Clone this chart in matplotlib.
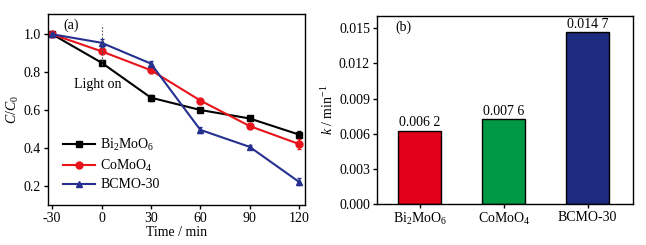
import matplotlib
matplotlib.use("Agg")
import matplotlib.pyplot as plt
import numpy as np

plt.rcParams['font.family'] = ['Liberation Serif', 'DejaVu Serif']
plt.rcParams['mathtext.fontset'] = 'custom'
plt.rcParams['mathtext.rm'] = 'Liberation Serif'
plt.rcParams['mathtext.it'] = 'Liberation Serif:italic'
plt.rcParams['axes.unicode_minus'] = False

time = [-30, 0, 30, 60, 90, 120]
bi2moo6 = [1.0, 0.85, 0.665, 0.60, 0.555, 0.47]
comoo4 = [1.0, 0.91, 0.81, 0.65, 0.515, 0.42]
bcmo30 = [1.0, 0.955, 0.845, 0.495, 0.405, 0.22]
err_bi = [0.01, 0.012, 0.015, 0.008, 0.01, 0.02]
err_co = [0.008, 0.01, 0.012, 0.01, 0.01, 0.025]
err_bc = [0.008, 0.02, 0.012, 0.015, 0.01, 0.018]

categories = ['Bi$_2$MoO$_6$', 'CoMoO$_4$', 'BCMO-30']
k_values = [0.00627, 0.00727, 0.01466]
k_labels = ['0.006 2', '0.007 6', '0.014 7']
bar_colors = ['#e3001b', '#009a44', '#1c2a80']

fig = plt.figure(figsize=(6.46, 2.45), dpi=100)
W, H = 646, 245
ax1 = fig.add_axes([48 / W, 1 - 205 / H, 257 / W, 191 / H])
ax2 = fig.add_axes([377 / W, 1 - 204 / H, 256 / W, 188 / H])

fs = 10
series = [(bi2moo6, err_bi, 'black', 's', 'Bi$_2$MoO$_6$'),
          (comoo4, err_co, '#e8141c', 'o', 'CoMoO$_4$'),
          (bcmo30, err_bc, '#25308f', '^', 'BCMO-30')]
for ys, es, c, m, lab in series:
    ax1.errorbar(time, ys, yerr=es, color=c, fmt='none', capsize=1.5, elinewidth=0.8)
    ax1.plot(time, ys, color=c, marker=m, lw=1.5, ms=5, label=lab)
ax1.plot([0, 0], [0.84, 1.05], color='#555555', lw=0.8, ls=(0, (1.5, 1.5)))
ax1.text(-2.5, 0.735, 'Light on', ha='center', va='center', fontsize=fs)
ax1.text(0.06, 0.94, '(a)', transform=ax1.transAxes, fontsize=fs, va='center')
ax1.set_xlim(-32.5, 123.6)
ax1.set_ylim(0.098, 1.107)
ax1.set_xticks(time)
ax1.set_yticks([0.2, 0.4, 0.6, 0.8, 1.0])
ax1.set_xlabel('Time / min', fontsize=fs, labelpad=1)
ax1.set_ylabel('$C$/$C$$_0$', fontsize=fs, labelpad=2)
ax1.legend(loc='lower left', bbox_to_anchor=(0.02, 0.02), frameon=False, fontsize=fs,
           handlelength=2.3, handletextpad=0.4, labelspacing=0.35, borderpad=0.2)

x = np.arange(len(categories))
ax2.bar(x, k_values, width=0.51, color=bar_colors, edgecolor='black', linewidth=1.0)
for xi, v, lab in zip(x, k_values, k_labels):
    ax2.text(xi, v + 0.0001, lab, ha='center', va='bottom', fontsize=fs)
ax2.text(0.07, 0.94, '(b)', transform=ax2.transAxes, fontsize=fs, va='center')
ax2.set_xlim(-0.51, 2.54)
ax2.set_ylim(0, 0.01605)
ax2.set_xticks(x)
ax2.set_xticklabels(categories)
ax2.set_yticks([0.0, 0.003, 0.006, 0.009, 0.012, 0.015])
ax2.set_yticklabels(['0.000', '0.003', '0.006', '0.009', '0.012', '0.015'])
ax2.set_ylabel('$k$ / min$^{-1}$', fontsize=fs, labelpad=2)

for ax in (ax1, ax2):
    ax.tick_params(direction='out', length=3, width=1, labelsize=fs, pad=2,
                   top=False, right=False)
    for s in ax.spines.values():
        s.set_linewidth(1.0)

fig.savefig('out.png', dpi=100)
